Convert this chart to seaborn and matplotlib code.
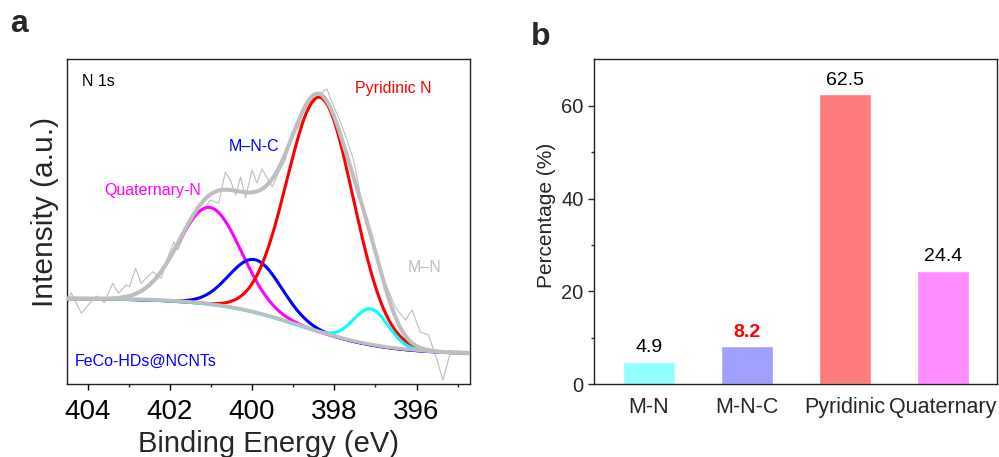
import numpy as np
import pandas as pd
import matplotlib
matplotlib.use("Agg")
import matplotlib.pyplot as plt
import seaborn as sns

# ---------------- data: panel a (XPS N 1s) ----------------
be_raw = [404.48, 404.40, 404.15, 403.95, 403.77, 403.59, 403.39, 403.25, 403.06, 402.98,
          402.83, 402.70, 402.41, 402.21, 402.03, 401.90, 401.81, 401.62, 401.38, 401.18,
          401.01, 400.81, 400.65, 400.53, 400.40, 400.28, 400.16, 400.00, 399.88, 399.76,
          399.63, 399.51, 399.35, 399.19, 399.03, 398.92, 398.75, 398.54, 398.39, 398.26,
          398.18, 398.05, 397.89, 397.69, 397.53, 397.37, 397.24, 396.92, 396.52, 396.27,
          396.11, 395.91, 395.71, 395.50, 395.36, 395.18, 395.02, 394.77]
int_raw = [80.7, 91.3, 70.7, 80.7, 88, 81.3, 100.7, 90.7, 99, 97.3,
           115.7, 100.7, 112.3, 105.7, 129, 142, 134, 152, 169, 174,
           184, 180.7, 212, 204, 189, 207, 186, 214, 201, 215,
           206, 197, 212, 224, 252, 254, 266, 279, 287, 293,
           295, 281, 266, 244, 224, 190, 162, 117, 77, 64,
           74, 52, 49, 24, 4, 31, 32, 29]

peak_names = ["Quaternary-N", "M\u2013N-C", "Pyridinic N", "M\u2013N"]
peak_center = [401.03, 399.92, 398.34, 397.11]
peak_height = [97.0, 53.0, 235.0, 36.0]
peak_fwhm = [1.79, 1.50, 1.90, 1.00]
peak_colors = ["#FF00FF", "#0000FF", "#FF0000", "#00FFFF"]
# step-shaped background: high-BE level, low-BE level, midpoint (eV), step width (eV)
bg_high, bg_low, bg_mid, bg_width = 85.5, 29.7, 398.8, 1.05
be_range = (394.75, 404.48)

# ---------------- data: panel b (percentages) ----------------
categories = ["M-N", "M-N-C", "Pyridinic", "Quaternary"]
percent = [4.9, 8.2, 62.5, 24.4]
bar_colors = ["#8FFFFF", "#A0A0FF", "#FF7C7C", "#FF8CFF"]

# ---------------- style ----------------
sns.set_style("ticks")
plt.rcParams["font.family"] = ["Liberation Sans", "DejaVu Sans"]
plt.rcParams["axes.linewidth"] = 1.0

fig = plt.figure(figsize=(9.99, 4.57), dpi=100)
W, H = 999.0, 457.0
ax1 = fig.add_axes([67 / W, 1 - 384 / H, (470 - 67) / W, (384 - 59) / H])
ax2 = fig.add_axes([594 / W, 1 - 384.3 / H, (997.3 - 594) / W, (384.3 - 59.3) / H])

# ---- fitted components (Gaussian) on a step background ----
E = np.linspace(be_range[0], be_range[1], 900)
bg = bg_low + (bg_high - bg_low) / (1 + np.exp(-(E - bg_mid) / bg_width))
comps = []
for c, h, f in zip(peak_center, peak_height, peak_fwhm):
    s = f / 2.3548
    comps.append(h * np.exp(-0.5 * ((E - c) / s) ** 2))
total = np.sum(comps, axis=0)
env = bg + total

gray = "#BEBEBE"
sns.lineplot(x=be_raw, y=int_raw, ax=ax1, color=gray, lw=0.8, sort=False, zorder=2)
for comp, col in zip(comps, peak_colors):
    sns.lineplot(x=E, y=bg + comp, ax=ax1, color=col, lw=2.2, sort=False, zorder=3)
sns.lineplot(x=E, y=bg, ax=ax1, color="#B8A8D8", lw=1.2, sort=False, zorder=4)
sns.lineplot(x=E, y=bg + 0.6, ax=ax1, color=gray, lw=2.5, sort=False, zorder=4)
sns.lineplot(x=E, y=env, ax=ax1, color=gray, lw=2.9, sort=False, zorder=5)

ax1.set_xlim(404.5, 394.7)
ax1.set_ylim(0, 325)
ax1.set_xticks([404, 402, 400, 398, 396])
ax1.set_xticks([403, 401, 399, 397, 395], minor=True)
ax1.set_yticks([])
ax1.tick_params(axis="x", which="major", direction="out", length=4.5, width=1.0,
                labelsize=20, pad=6, colors="black")
ax1.tick_params(axis="x", which="minor", direction="out", length=2.5, width=1.0)
ax1.set_xlabel("Binding Energy (eV)", fontsize=21, labelpad=4)
ax1.set_ylabel("Intensity (a.u.)", fontsize=21.5, labelpad=6)
ax1.yaxis.label.set_y(0.53)
for sp in ax1.spines.values():
    sp.set_visible(True)
    sp.set_color("#222222")

def at(ax, xpix, ypix):
    # figure pixel -> axes fraction, for placing annotations
    l, b, w, h = ax.get_position().bounds
    return ((xpix / W - l) / w, ((1 - ypix / H) - b) / h)

fs_a = 11.5
ax1.text(*at(ax1, 82, 81), "N 1s", transform=ax1.transAxes, fontsize=fs_a,
         color="black", ha="left", va="center")
ax1.text(*at(ax1, 393, 88), "Pyridinic N", transform=ax1.transAxes, fontsize=fs_a,
         color="#FF0000", ha="center", va="center")
ax1.text(*at(ax1, 254.5, 146), "M\u2013N-C", transform=ax1.transAxes, fontsize=fs_a,
         color="#0000FF", ha="center", va="center")
ax1.text(*at(ax1, 153, 190), "Quaternary-N", transform=ax1.transAxes, fontsize=fs_a,
         color="#FF00FF", ha="center", va="center")
ax1.text(*at(ax1, 424.5, 267), "M\u2013N", transform=ax1.transAxes, fontsize=fs_a,
         color="#BEBEBE", ha="center", va="center")
ax1.text(*at(ax1, 75, 361), "FeCo-HDs@NCNTs", transform=ax1.transAxes, fontsize=fs_a,
         color="#0000FF", ha="left", va="center")

# ---- panel b ----
dfb = pd.DataFrame({"cat": categories, "pct": percent})
sns.barplot(data=dfb, x="cat", y="pct", hue="cat", palette=bar_colors, legend=False,
            width=0.53, ax=ax2, saturation=1)
ax2.set_xlim(-0.561, 3.554)
ax2.set_ylim(0, 70)
ax2.set_yticks([0, 20, 40, 60])
ax2.set_yticks([10, 30, 50], minor=True)
ax2.tick_params(axis="y", which="major", direction="out", length=4.5, width=1.0,
                labelsize=14.5, pad=3)
ax2.tick_params(axis="y", which="minor", direction="out", length=2.5, width=1.0, left=True)
ax2.tick_params(axis="x", length=0, labelsize=15.5, pad=9)
ax2.set_xlabel("")
ax2.set_ylabel("Percentage (%)", fontsize=15, labelpad=4)
ax2.yaxis.label.set_y(0.521)
for sp in ax2.spines.values():
    sp.set_visible(True)
    sp.set_color("#222222")
for i, v in enumerate(percent):
    red = categories[i] == "M-N-C"
    ax2.annotate(f"{v}", (i, v), xytext=(0, 4), textcoords="offset points",
                 ha="center", va="bottom", fontsize=14,
                 color="#FF0000" if red else "black",
                 fontweight="bold" if red else "normal")

fig.text(19 / W, 1 - 24 / H, "a", fontsize=23, fontweight="bold", ha="center", va="center")
fig.text(541 / W, 1 - 37 / H, "b", fontsize=23, fontweight="bold", ha="center", va="center")

fig.savefig("out.png", dpi=100)
